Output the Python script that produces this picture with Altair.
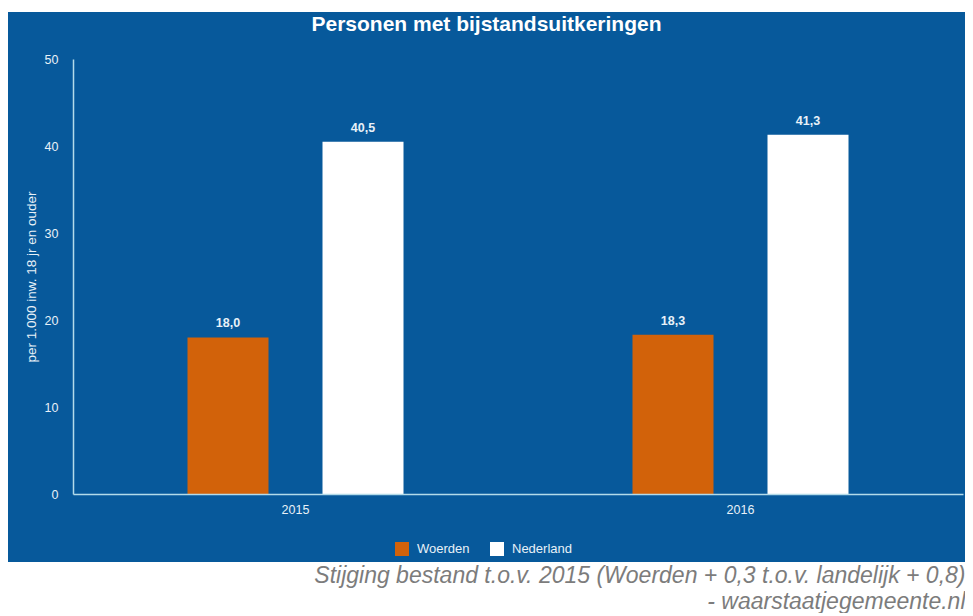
import altair as alt
import pandas as pd

# ---- data ----
years = ["2015", "2016"]
series = ["Woerden", "Nederland"]
woerden = [18.0, 18.3]
nederland = [40.5, 41.3]
y_ticks = [0, 10, 20, 30, 40, 50]
colors = ["#d2620a", "#ffffff"]

title_text = "Personen met bijstandsuitkeringen"
y_title = "per 1.000 inw. 18 jr en ouder"
caption = ["Stijging bestand t.o.v. 2015 (Woerden + 0,3 t.o.v. landelijk + 0,8)",
           "- waarstaatjegemeente.nl"]

rows = []
for i, yr in enumerate(years):
    rows.append({"jaar": yr, "reeks": series[0], "waarde": woerden[i]})
    rows.append({"jaar": yr, "reeks": series[1], "waarde": nederland[i]})
df = pd.DataFrame(rows)

BLUE = "#07599b"
AXIS = "#b3dbe9"
LABEL = "#e8f1f8"
FONT = "Liberation Sans"
W, H = 957, 550

x_enc = alt.X(
    "jaar:N", sort=years,
    scale=alt.Scale(range=[65, 955], paddingInner=0, paddingOuter=0),
    axis=alt.Axis(
        orient="bottom", offset=-68, labelAngle=0, ticks=False,
        domainColor=AXIS, domainWidth=1.5, labelColor=LABEL, labelFontSize=12.5,
        labelFont=FONT, labelPadding=9,
        title=caption, titleX=957, titleY=88, titleAlign="right",
        titleBaseline="alphabetic", titleFontStyle="italic", titleFontWeight="normal",
        titleFontSize=23, titleColor="#7c7c7c", titleLineHeight=26, titleFont=FONT,
        zindex=1,
    ),
)
y_enc = alt.Y(
    "waarde:Q",
    scale=alt.Scale(domain=[0, 50], range=[482, 47], nice=False),
    axis=alt.Axis(
        orient="left", offset=-65, values=y_ticks, ticks=False, grid=False,
        domainColor=AXIS, domainWidth=1.5, labelColor=LABEL, labelFontSize=12.5,
        labelFont=FONT, labelPadding=15,
        title=y_title, titleColor=LABEL, titleFontSize=13.5, titleFont=FONT,
        titleFontWeight="normal", titlePadding=6, zindex=1,
    ),
)
xo_enc = alt.XOffset("reeks:N", sort=series,
                     scale=alt.Scale(domain=series, paddingInner=0.4, paddingOuter=0.848))

bars = alt.Chart(df).mark_bar(strokeWidth=0).encode(
    x=x_enc, y=y_enc, xOffset=xo_enc,
    color=alt.Color(
        "reeks:N", sort=series,
        scale=alt.Scale(domain=series, range=colors),
        legend=alt.Legend(
            orient="none", legendX=387, legendY=530, direction="horizontal",
            title=None, symbolType="square", symbolSize=196, symbolStrokeWidth=0,
            symbolOpacity=1, labelColor=LABEL, labelFontSize=13, labelFont=FONT,
            columnPadding=20, labelOffset=8,
        ),
    ),
)

labels = alt.Chart(df).transform_calculate(
    lbl="replace(format(datum.waarde, '.1f'), '.', ',')"
).mark_text(dy=-14, fontSize=12.5, fontWeight="bold", color=LABEL, font=FONT).encode(
    x=x_enc, y=y_enc, xOffset=xo_enc, text="lbl:N",
)

chart = alt.layer(bars, labels).properties(
    width=W, height=H,
    padding={"left": 0, "top": 4, "right": 0, "bottom": 0},
    background="white",
    title=alt.TitleParams(
        title_text, anchor="middle", orient="top", offset=-23,
        fontSize=21, fontWeight="bold", color="white", font=FONT,
    ),
).configure_view(fill=BLUE, stroke=None)

chart.save("out.html", embed_options={"renderer": "svg", "actions": False})
